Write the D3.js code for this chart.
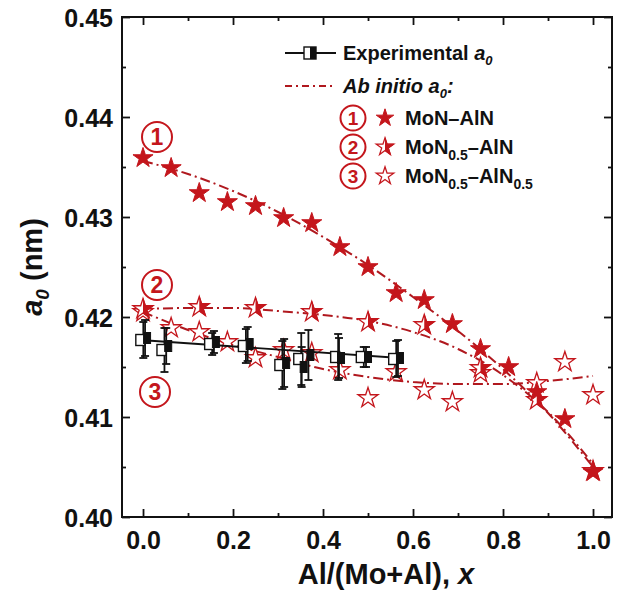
<!DOCTYPE html>
<html>
<head>
<meta charset="utf-8">
<script src="https://cdn.jsdelivr.net/npm/d3@7"></script>
<style>
  body { margin: 0; background: #fff; }
  svg text { font-family: "Liberation Sans", Arial, sans-serif; font-weight: bold; }
</style>
</head>
<body>
<svg id="chart" width="627" height="594"></svg>
<script>
// ab initio, three models (x = Al/(Mo+Al))
var s1X = [0, 0.0625, 0.125, 0.1875, 0.25, 0.3125, 0.375, 0.4375, 0.5, 0.5625, 0.625, 0.6875, 0.75, 0.8125, 0.875, 0.9375, 1.0];
var s1Y = [0.4359, 0.4349, 0.4324, 0.4315, 0.4311, 0.4299, 0.4294, 0.4270, 0.4250, 0.4224, 0.4217, 0.4193, 0.4168, 0.4150, 0.4125, 0.4098, 0.4045];

var s2X = [0, 0.125, 0.25, 0.375, 0.5, 0.625, 0.75, 0.875, 1.0];
var s2Y = [0.4208, 0.4210, 0.4209, 0.4205, 0.4195, 0.4192, 0.4149, 0.4117, 0.4046];

var s3X = [0, 0.0625, 0.125, 0.1875, 0.25, 0.3125, 0.375, 0.4375, 0.5, 0.5625, 0.625, 0.6875, 0.75, 0.875, 0.9375, 1.0];
var s3Y = [0.4205, 0.4189, 0.4185, 0.4175, 0.4159, 0.4167, 0.4164, 0.4147, 0.4119, 0.4145, 0.4127, 0.4115, 0.4144, 0.4134, 0.4155, 0.4122];

// dash-dot fit curves
var fitX  = [0, 0.1, 0.2, 0.3, 0.4, 0.5, 0.6, 0.7, 0.8, 0.9, 1.0];
var fit1Y = [0.4356, 0.4343, 0.4326, 0.4305, 0.4280, 0.4252, 0.4220, 0.4186, 0.4148, 0.4104, 0.4050];
var fit2Y = [0.4208, 0.4209, 0.4209, 0.4206, 0.4202, 0.4196, 0.4185, 0.4168, 0.4142, 0.4105, 0.4053];
var fit3Y = [0.4205, 0.4187, 0.4172, 0.4160, 0.4148, 0.4140, 0.4135, 0.4133, 0.4133, 0.4136, 0.4141];

// experimental (open / filled squares, with error bars)
var expOpenX = [-0.006, 0.041, 0.147, 0.222, 0.303, 0.345, 0.427, 0.484, 0.556];
var expOpenY = [0.4177, 0.4167, 0.4173, 0.4171, 0.4152, 0.4158, 0.4160, 0.4160, 0.4158];
var expOpenE = [0.0018, 0.0022, 0.0011, 0.0017, 0.0024, 0.0026, 0.0023, 0.0010, 0.0018];
var expFillX = [0.009, 0.056, 0.162, 0.237, 0.318, 0.357, 0.372, 0.440, 0.500, 0.571];
var expFillY = [0.4179, 0.4171, 0.4175, 0.4173, 0.4154, 0.4150, 0.4162, 0.4159, 0.4160, 0.4159];
var expFillE = [0.0018, 0.0018, 0.0011, 0.0017, 0.0024, 0.0020, 0.0025, 0.0020, 0.0010, 0.0018];
var expFitX = [-0.006, 0.571];
var expFitY = [0.4177, 0.4159];

var xTicks = [0, 0.2, 0.4, 0.6, 0.8, 1.0];
var yTicks = [0.40, 0.41, 0.42, 0.43, 0.44, 0.45];

var RED = "#c4161c";
var LINE_RED = "#b0181e";

var svg = d3.select("#chart");
var pL = 122, pR = 612, pT = 17, pB = 517;

var x = d3.scaleLinear().domain([-0.0467, 1.0422]).range([pL, pR]);
var y = d3.scaleLinear().domain([0.40, 0.45]).range([pB, pT]);

var defs = svg.append("defs");
defs.append("clipPath").attr("id", "halfRight")
  .append("rect").attr("x", 0).attr("y", -20).attr("width", 20).attr("height", 40);

// axes: ticks inward on all four sides
function minors(major, step) {
  var out = [];
  major.forEach(function(t, i) { if (i < major.length - 1) out.push(t + step); });
  return out;
}
var xMinor = minors(xTicks, 0.1);
var yMinor = minors(yTicks, 0.005);

function tickAxis(axisFn, scale, ticks, size, fmt) {
  return axisFn(scale).tickValues(ticks).tickSizeInner(-size).tickSizeOuter(0).tickFormat(fmt);
}

var gB = svg.append("g").attr("transform", "translate(0," + pB + ")")
  .call(tickAxis(d3.axisBottom, x, xTicks, 8, d3.format(".1f")));
svg.append("g").attr("transform", "translate(0," + pB + ")")
  .call(tickAxis(d3.axisBottom, x, xMinor, 4, ""));
svg.append("g").attr("transform", "translate(0," + pT + ")")
  .call(tickAxis(d3.axisTop, x, xTicks, 8, ""));
svg.append("g").attr("transform", "translate(0," + pT + ")")
  .call(tickAxis(d3.axisTop, x, xMinor, 4, ""));
var gL = svg.append("g").attr("transform", "translate(" + pL + ",0)")
  .call(tickAxis(d3.axisLeft, y, yTicks, 8, d3.format(".2f")));
svg.append("g").attr("transform", "translate(" + pL + ",0)")
  .call(tickAxis(d3.axisLeft, y, yMinor, 4, ""));
svg.append("g").attr("transform", "translate(" + pR + ",0)")
  .call(tickAxis(d3.axisRight, y, yTicks, 8, ""));
svg.append("g").attr("transform", "translate(" + pR + ",0)")
  .call(tickAxis(d3.axisRight, y, yMinor, 4, ""));

svg.selectAll(".domain").remove();
svg.selectAll(".tick line").attr("stroke", "#111").attr("stroke-width", 1.8);
gB.selectAll(".tick text").attr("font-size", 25).attr("fill", "#111").attr("y", 9).attr("dy", "0.9em");
gL.selectAll(".tick text").attr("font-size", 25).attr("fill", "#111").attr("x", -9).attr("dy", "0.36em");

svg.append("rect").attr("x", pL).attr("y", pT)
  .attr("width", pR - pL).attr("height", pB - pT)
  .attr("fill", "none").attr("stroke", "#111").attr("stroke-width", 2);

// axis titles
var yl = svg.append("text").attr("transform", "translate(42," + ((pT + pB) / 2) + ") rotate(-90)")
  .attr("text-anchor", "middle").attr("font-size", 29).attr("fill", "#111");
yl.append("tspan").attr("font-style", "italic").text("a");
yl.append("tspan").attr("font-style", "italic").attr("font-size", 19).attr("dy", 7).text("0");
yl.append("tspan").attr("dy", -7).text(" (nm)");

var xl = svg.append("text").attr("x", 386).attr("y", 584)
  .attr("text-anchor", "middle").attr("font-size", 29).attr("fill", "#111");
xl.append("tspan").text("Al/(Mo+Al), ");
xl.append("tspan").attr("font-style", "italic").text("x");

// fit curves
var dashDot = "10,4,2,4";
function curveLine(xs, ys) {
  return d3.line().x(function(d, i) { return x(xs[i]); }).y(function(d, i) { return y(ys[i]); })
    .curve(d3.curveMonotoneX)(xs);
}
[fit1Y, fit2Y, fit3Y].forEach(function(ys) {
  svg.append("path").attr("d", curveLine(fitX, ys))
    .attr("fill", "none").attr("stroke", LINE_RED).attr("stroke-width", 2)
    .attr("stroke-dasharray", dashDot);
});

// stars
var star = d3.symbol().type(d3.symbolStar).size(125);
function drawStar(g, cx, cy, kind, sz) {
  var p = sz ? d3.symbol().type(d3.symbolStar).size(sz)() : star();
  if (kind === "filled") {
    g.append("path").attr("d", p).attr("transform", "translate(" + cx + "," + cy + ")")
      .attr("fill", RED).attr("stroke", RED).attr("stroke-width", 1);
  } else {
    g.append("path").attr("d", p).attr("transform", "translate(" + cx + "," + cy + ")")
      .attr("fill", "#fff").attr("stroke", RED).attr("stroke-width", 1.3);
    if (kind === "half") {
      g.append("path").attr("d", p).attr("transform", "translate(" + cx + "," + cy + ")")
        .attr("clip-path", "url(#halfRight)").attr("fill", RED).attr("stroke", RED).attr("stroke-width", 1);
    }
  }
}
var gStars = svg.append("g");
s3X.forEach(function(v, i) { drawStar(gStars, x(v), y(s3Y[i]), "open"); });
s2X.forEach(function(v, i) { drawStar(gStars, x(v), y(s2Y[i]), "half"); });
s1X.forEach(function(v, i) { drawStar(gStars, x(v), y(s1Y[i]), "filled"); });

// experimental
var gExp = svg.append("g");
gExp.append("path").attr("d", curveLine(expFitX, expFitY))
  .attr("fill", "none").attr("stroke", "#111").attr("stroke-width", 1.8);
function errBar(cx, v, e) {
  var y0 = y(v - e), y1 = y(v + e);
  gExp.append("line").attr("x1", cx).attr("x2", cx).attr("y1", y0).attr("y2", y1)
    .attr("stroke", "#111").attr("stroke-width", 1.8);
  [y0, y1].forEach(function(yy) {
    gExp.append("line").attr("x1", cx - 4).attr("x2", cx + 4).attr("y1", yy).attr("y2", yy)
      .attr("stroke", "#111").attr("stroke-width", 1.8);
  });
}
expOpenX.forEach(function(v, i) { errBar(x(v) + 3, expOpenY[i], expOpenE[i]); });
expFillX.forEach(function(v, i) { errBar(x(v) - 2, expFillY[i], expFillE[i]); });
expOpenX.forEach(function(v, i) {
  gExp.append("rect").attr("x", x(v) - 4.5).attr("y", y(expOpenY[i]) - 5.5)
    .attr("width", 9).attr("height", 11).attr("fill", "#fff").attr("stroke", "#111").attr("stroke-width", 1.4);
});
expFillX.forEach(function(v, i) {
  gExp.append("rect").attr("x", x(v) - 3.5).attr("y", y(expFillY[i]) - 5.5)
    .attr("width", 7).attr("height", 11).attr("fill", "#111").attr("stroke", "#111").attr("stroke-width", 1);
});

// circled numbers
function circled(cx, cy, r, n, fs) {
  svg.append("circle").attr("cx", cx).attr("cy", cy).attr("r", r)
    .attr("fill", "#fff").attr("stroke", RED).attr("stroke-width", 2);
  svg.append("text").attr("x", cx).attr("y", cy).attr("dy", "0.36em")
    .attr("text-anchor", "middle").attr("font-size", fs).attr("fill", RED).text(n);
}
circled(157, 137, 15, "1", 23);
circled(157, 285, 15, "2", 23);
circled(155, 392, 15, "3", 23);

// legend
var lg = svg.append("g");
lg.append("line").attr("x1", 285).attr("x2", 336).attr("y1", 53).attr("y2", 53)
  .attr("stroke", "#111").attr("stroke-width", 1.8);
lg.append("rect").attr("x", 304).attr("y", 47).attr("width", 12).attr("height", 12)
  .attr("fill", "#fff").attr("stroke", "#111").attr("stroke-width", 1.4);
lg.append("rect").attr("x", 310).attr("y", 47).attr("width", 6).attr("height", 12).attr("fill", "#111");
var t1 = lg.append("text").attr("x", 343).attr("y", 60).attr("font-size", 20).attr("fill", "#111");
t1.append("tspan").text("Experimental ");
t1.append("tspan").attr("font-style", "italic").text("a");
t1.append("tspan").attr("font-style", "italic").attr("font-size", 13).attr("dy", 5).text("0");

lg.append("line").attr("x1", 285).attr("x2", 336).attr("y1", 86).attr("y2", 86)
  .attr("stroke", LINE_RED).attr("stroke-width", 2).attr("stroke-dasharray", "7,4,2,4");
var t2 = lg.append("text").attr("x", 343).attr("y", 93).attr("font-size", 20).attr("fill", "#111")
  .attr("font-style", "italic");
t2.append("tspan").text("Ab initio a");
t2.append("tspan").attr("font-size", 13).attr("dy", 5).text("0");
t2.append("tspan").attr("dy", -5).text(":");

var legRows = [
  { n: "1", kind: "filled", cy: 118, parts: [["MoN\u2013AlN", 0]] },
  { n: "2", kind: "half", cy: 147, parts: [["MoN", 0], ["0.5", 1], ["\u2013AlN", 0]] },
  { n: "3", kind: "open", cy: 176, parts: [["MoN", 0], ["0.5", 1], ["\u2013AlN", 0], ["0.5", 1]] }
];
legRows.forEach(function(r) {
  lg.append("circle").attr("cx", 353).attr("cy", r.cy).attr("r", 12.5)
    .attr("fill", "#fff").attr("stroke", RED).attr("stroke-width", 2);
  lg.append("text").attr("x", 353).attr("y", r.cy).attr("dy", "0.36em").attr("text-anchor", "middle")
    .attr("font-size", 19).attr("fill", RED).text(r.n);
  drawStar(lg, 385, r.cy, r.kind, 95);
  var t = lg.append("text").attr("x", 405).attr("y", r.cy + 7).attr("font-size", 20).attr("fill", "#111");
  var sub = 0;
  r.parts.forEach(function(p) {
    var ts = t.append("tspan").text(p[0]);
    if (p[1] && !sub) { ts.attr("font-size", 14).attr("dy", 6); sub = 1; }
    else if (!p[1] && sub) { ts.attr("dy", -6); sub = 0; }
  });
});
</script>
</body>
</html>
